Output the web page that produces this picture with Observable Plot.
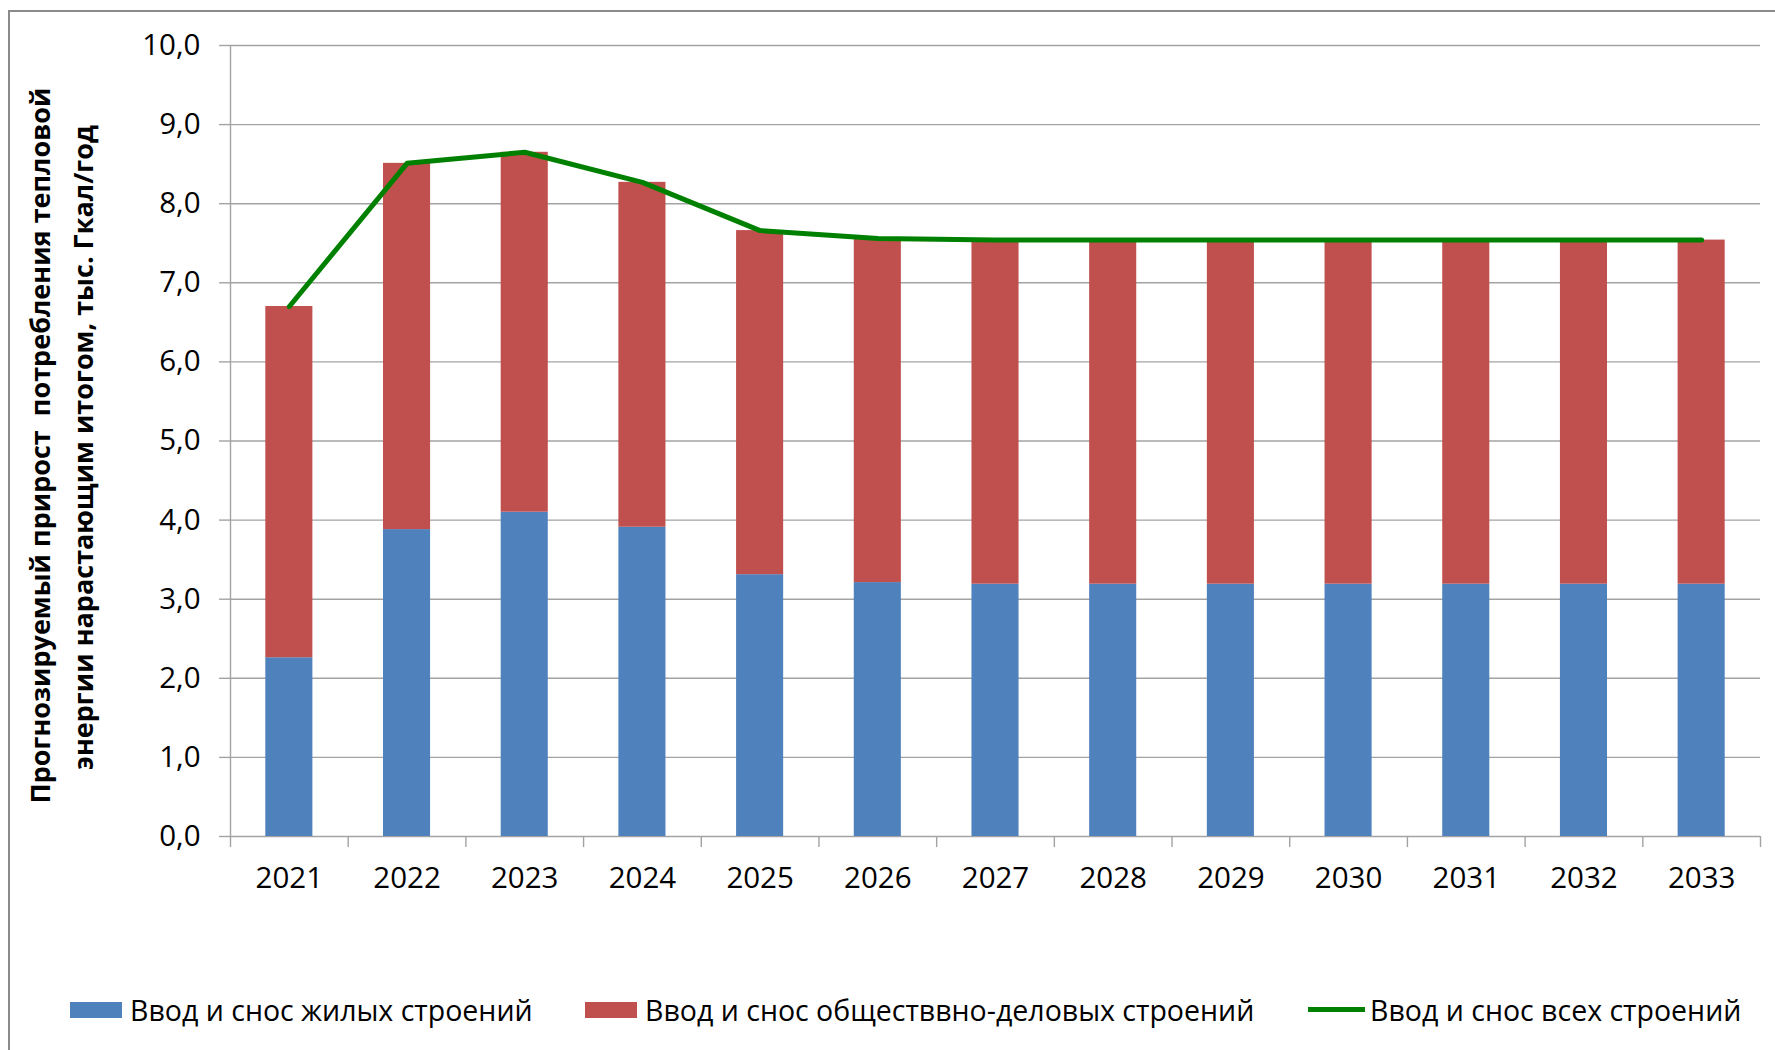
<!DOCTYPE html>
<html>
<head>
<meta charset="utf-8">
<script src="https://cdn.jsdelivr.net/npm/d3@7"></script>
<script src="https://cdn.jsdelivr.net/npm/@observablehq/plot@0.6"></script>
<style>
  html, body { margin: 0; padding: 0; background: #fff; overflow: hidden; }
  #wrap { position: relative; width: 1775px; height: 1050px; font-family: 'Open Sans', sans-serif; }
  #border { position: absolute; left: 8px; top: 10px; width: 1800px; height: 1100px; border: 2px solid #8a8a8a; box-sizing: border-box; pointer-events: none; }
  #chart { position: absolute; left: 0; top: 0; }
  #legend { position: absolute; left: 0; top: 950px; width: 1775px; height: 100px; font-size: 28.5px; color: #000; }
  .sw { position: absolute; }
  .lt { position: absolute; top: 60px; transform: translateY(-50%); white-space: nowrap; }
</style>
</head>
<body>
<div id="wrap">
  <div id="chart"></div>
  <div id="legend"></div>
  <div id="border"></div>
</div>
<script>
const years = ["2021","2022","2023","2024","2025","2026","2027","2028","2029","2030","2031","2032","2033"];
const residential = [2.26, 3.88, 4.10, 3.91, 3.31, 3.21, 3.19, 3.19, 3.19, 3.19, 3.19, 3.19, 3.19];
const publicBusiness = [4.44, 4.63, 4.55, 4.36, 4.35, 4.35, 4.35, 4.35, 4.35, 4.35, 4.35, 4.35, 4.35];
const allBuildings = [6.70, 8.51, 8.65, 8.27, 7.66, 7.56, 7.54, 7.54, 7.54, 7.54, 7.54, 7.54, 7.54];
const seriesNames = ["Ввод и снос жилых строений", "Ввод и снос общественно-деловых строений", "Ввод и снос всех строений"];
const legendLabels = ["Ввод и снос жилых строений", "Ввод и снос обществвно-деловых строений", "Ввод и снос всех строений"];
const seriesColors = ["#4F81BD", "#C0504D", "#008000"];
const yTicks = [0, 1, 2, 3, 4, 5, 6, 7, 8, 9, 10];
const yLabelLines = ["Прогнозируемый прирост  потребления тепловой", "энергии нарастающим итогом, тыс. Гкал/год"];

const rows = [];
years.forEach((yr, i) => {
  rows.push({year: yr, series: seriesNames[0], value: residential[i]});
  rows.push({year: yr, series: seriesNames[1], value: publicBusiness[i]});
});
const lineRows = years.map((yr, i) => ({year: yr, total: allBuildings[i]}));

const W = 1775, H = 950, mL = 230, mR = 15, mT = 45, mB = 114;
const step = (W - mL - mR) / years.length;
const gridColor = "#a3a3a3";
const fmt = d => d.toFixed(1).replace(".", ",");
const midY = (mT + (H - mB)) / 2;

const chart = Plot.plot({
  width: W, height: H,
  marginLeft: mL, marginRight: mR, marginTop: mT, marginBottom: mB,
  style: {fontFamily: "'Open Sans', sans-serif", fontSize: "29.5px", color: "#000", background: "transparent", overflow: "visible"},
  x: {domain: years, paddingInner: 0.6, paddingOuter: 0.3, round: false, label: null},
  y: {domain: [0, 10], label: null},
  color: {domain: seriesNames.slice(0, 2), range: seriesColors.slice(0, 2)},
  marks: [
    Plot.gridY(yTicks, {stroke: gridColor, strokeOpacity: 1, strokeWidth: 1.4}),
    Plot.axisY(yTicks, {tickSize: 11, tickPadding: 19, tickFormat: fmt, stroke: gridColor, strokeWidth: 1.4, fill: "#000", label: null}),
    Plot.axisX({tickSize: 0, tickPadding: 31, fill: "#000", label: null}),
    Plot.barY(rows, {x: "year", y: "value", fill: "series"}),
    Plot.ruleX([years[0]], {dx: -step / 2, stroke: gridColor, strokeWidth: 1.4}),
    Plot.ruleX(years, {x: d => d, y1: 0, y2: -0.14, dx: -step / 2, stroke: gridColor, strokeWidth: 1.4}),
    Plot.ruleX([years[years.length - 1]], {x: d => d, y1: 0, y2: -0.14, dx: step / 2, stroke: gridColor, strokeWidth: 1.4}),
    Plot.line(lineRows, {x: "year", y: "total", stroke: seriesColors[2], strokeWidth: 5, strokeLinejoin: "round", strokeLinecap: "round"}),
    Plot.text([yLabelLines[0]], {text: d => d, frameAnchor: "left", textAnchor: "middle", lineAnchor: "middle", rotate: -90, dx: 41 - mL, dy: 445 - midY, fontWeight: "bold", fontSize: 27, fill: "#000"}),
    Plot.text([yLabelLines[1]], {text: d => d, frameAnchor: "left", textAnchor: "middle", lineAnchor: "middle", rotate: -90, dx: 84 - mL, dy: 447 - midY, fontWeight: "bold", fontSize: 27, fill: "#000"})
  ]
});
document.getElementById("chart").appendChild(chart);

const legend = document.getElementById("legend");
const items = [
  {type: "rect", color: seriesColors[0], sx: 70, tx: 130, label: legendLabels[0]},
  {type: "rect", color: seriesColors[1], sx: 585, tx: 645, label: legendLabels[1]},
  {type: "line", color: seriesColors[2], sx: 1308, tx: 1370, label: legendLabels[2]}
];
items.forEach(it => {
  const s = document.createElement("div");
  s.className = "sw";
  s.style.left = it.sx + "px";
  s.style.background = it.color;
  if (it.type === "rect") { s.style.top = "52px"; s.style.width = "52px"; s.style.height = "16px"; }
  else { s.style.top = "57px"; s.style.width = "57px"; s.style.height = "5px"; }
  legend.appendChild(s);
  const t = document.createElement("div");
  t.className = "lt";
  t.style.left = it.tx + "px";
  t.textContent = it.label;
  legend.appendChild(t);
});
</script>
</body>
</html>
